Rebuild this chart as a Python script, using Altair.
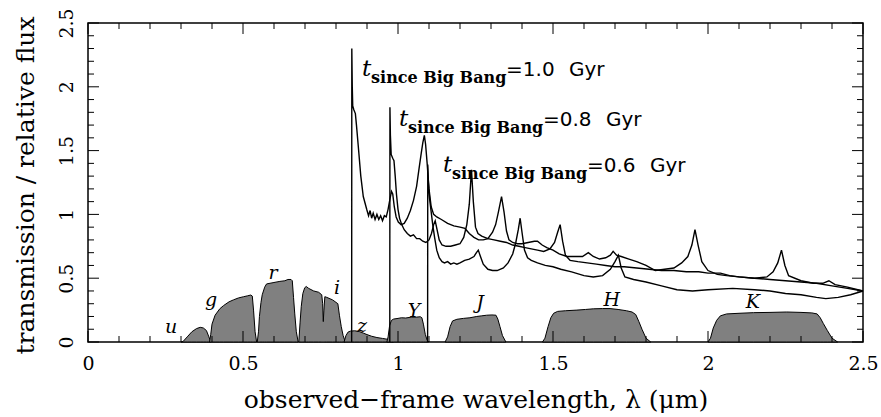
import altair as alt
import pandas as pd

# ---------------- filter transmission curves (wavelength in micron, transmission) ----------------
u_lam = [0.300, 0.307, 0.320, 0.335, 0.350, 0.362, 0.372, 0.382, 0.390, 0.396]
u_tr  = [0.000, 0.005, 0.040, 0.080, 0.105, 0.115, 0.110, 0.090, 0.040, 0.000]

g_lam = [0.392, 0.396, 0.400, 0.410, 0.425, 0.437, 0.455, 0.469, 0.485, 0.502, 0.515, 0.525, 0.530, 0.534, 0.539, 0.544]
g_tr  = [0.000, 0.060, 0.140, 0.210, 0.260, 0.285, 0.315, 0.330, 0.345, 0.355, 0.362, 0.368, 0.360, 0.250, 0.080, 0.000]

r_lam = [0.546, 0.550, 0.553, 0.558, 0.562, 0.570, 0.576, 0.597, 0.619, 0.635, 0.645, 0.655, 0.659, 0.663, 0.667, 0.672, 0.678]
r_tr  = [0.000, 0.080, 0.200, 0.310, 0.370, 0.430, 0.455, 0.465, 0.475, 0.480, 0.490, 0.490, 0.480, 0.350, 0.220, 0.080, 0.000]

i_lam = [0.680, 0.684, 0.688, 0.693, 0.699, 0.704, 0.712, 0.728, 0.744, 0.754, 0.757, 0.759, 0.761, 0.764, 0.770, 0.789, 0.806, 0.811, 0.817, 0.823, 0.830]
i_tr  = [0.000, 0.150, 0.280, 0.380, 0.425, 0.435, 0.420, 0.400, 0.390, 0.370, 0.300, 0.160, 0.250, 0.355, 0.350, 0.330, 0.300, 0.210, 0.120, 0.050, 0.000]

z_lam = [0.826, 0.832, 0.839, 0.846, 0.860, 0.875, 0.888, 0.900, 0.915, 0.932, 0.950, 0.965, 0.975, 0.985]
z_tr  = [0.000, 0.050, 0.078, 0.085, 0.088, 0.082, 0.070, 0.058, 0.045, 0.035, 0.028, 0.022, 0.012, 0.000]

Y_lam = [0.964, 0.968, 0.973, 0.979, 0.986, 1.000, 1.011, 1.025, 1.043, 1.060, 1.072, 1.077, 1.082, 1.088, 1.094, 1.099]
Y_tr  = [0.000, 0.040, 0.130, 0.170, 0.180, 0.185, 0.190, 0.188, 0.195, 0.195, 0.198, 0.190, 0.140, 0.060, 0.015, 0.000]

J_lam = [1.152, 1.160, 1.168, 1.176, 1.190, 1.211, 1.232, 1.254, 1.270, 1.286, 1.303, 1.316, 1.322, 1.329, 1.337, 1.348]
J_tr  = [0.000, 0.040, 0.120, 0.165, 0.178, 0.185, 0.190, 0.200, 0.205, 0.210, 0.212, 0.210, 0.180, 0.120, 0.050, 0.000]

H_lam = [1.466, 1.474, 1.484, 1.493, 1.502, 1.515, 1.540, 1.577, 1.605, 1.630, 1.660, 1.684, 1.710, 1.737, 1.755, 1.767, 1.777, 1.787, 1.800, 1.815]
H_tr  = [0.000, 0.030, 0.120, 0.190, 0.225, 0.240, 0.245, 0.250, 0.255, 0.260, 0.262, 0.262, 0.255, 0.245, 0.235, 0.215, 0.160, 0.100, 0.030, 0.000]

K_lam = [2.000, 2.008, 2.017, 2.028, 2.040, 2.060, 2.100, 2.147, 2.200, 2.254, 2.300, 2.335, 2.352, 2.362, 2.372, 2.385, 2.400, 2.418]
K_tr  = [0.000, 0.030, 0.110, 0.170, 0.205, 0.220, 0.225, 0.230, 0.232, 0.235, 0.232, 0.228, 0.220, 0.190, 0.145, 0.090, 0.030, 0.000]

filters = [("u", u_lam, u_tr), ("g", g_lam, g_tr), ("r", r_lam, r_tr), ("i", i_lam, i_tr),
           ("z", z_lam, z_tr), ("Y", Y_lam, Y_tr), ("J", J_lam, J_tr), ("H", H_lam, H_tr), ("K", K_lam, K_tr)]

# filter labels
flt_names = ["u", "g", "r", "i", "z", "Y", "J", "H", "K"]
flt_lab_lam = [0.268, 0.397, 0.597, 0.803, 0.884, 1.052, 1.265, 1.690, 2.145]
flt_lab_val = [0.118, 0.330, 0.540, 0.425, 0.125, 0.243, 0.306, 0.330, 0.313]

# ---------------- quasar spectra (relative flux) ----------------
A_lam = [0.8505, 0.851, 0.8525, 0.854, 0.8575, 0.8625, 0.866, 0.872, 0.880, 0.888, 0.899, 0.905, 0.910, 0.915,
         0.920, 0.926, 0.932, 0.938, 0.944, 0.950, 0.956, 0.962, 0.968, 0.974, 0.979, 0.983, 0.988, 0.994, 1.001,
         1.010, 1.020, 1.030, 1.040, 1.050, 1.060, 1.068, 1.075, 1.080, 1.085, 1.089, 1.094, 1.100, 1.107, 1.115,
         1.125, 1.140, 1.160, 1.180, 1.200, 1.216, 1.230, 1.245, 1.260, 1.275, 1.290, 1.305, 1.315, 1.324, 1.334,
         1.342, 1.350, 1.358, 1.370, 1.385, 1.400, 1.420, 1.440, 1.450, 1.465, 1.480, 1.500, 1.520, 1.545, 1.575,
         1.595, 1.614, 1.630, 1.650, 1.670, 1.685, 1.694, 1.705, 1.720, 1.745, 1.770, 1.800, 1.830, 1.860, 1.890,
         1.915, 1.935, 1.948, 1.958, 1.968, 1.980, 2.000, 2.030, 2.060, 2.100, 2.150, 2.200, 2.250, 2.300, 2.350,
         2.400, 2.450, 2.500]
A_flx = [0.00, 2.30, 2.00, 1.85, 1.82, 1.79, 1.70, 1.53, 1.30, 1.14, 1.04, 0.99, 1.03, 0.97,
         1.01, 0.96, 1.00, 0.96, 0.99, 0.95, 0.99, 0.98, 1.04, 1.12, 1.18, 1.16, 1.06, 0.98, 0.94,
         0.92, 0.93, 0.97, 1.03, 1.11, 1.22, 1.36, 1.48, 1.56, 1.62, 1.55, 1.40, 1.20, 1.06, 1.00,
         0.98, 0.96, 0.93, 0.91, 0.90, 0.89, 0.85, 0.82, 0.80, 0.80, 0.81, 0.86, 0.92, 1.02, 1.14,
         1.02, 0.87, 0.80, 0.78, 0.77, 0.77, 0.78, 0.79, 0.79, 0.76, 0.74, 0.72, 0.69, 0.67, 0.67,
         0.67, 0.70, 0.67, 0.65, 0.66, 0.68, 0.71, 0.68, 0.67, 0.65, 0.63, 0.60, 0.56, 0.57, 0.58,
         0.62, 0.67, 0.76, 0.88, 0.76, 0.63, 0.56, 0.53, 0.52, 0.51, 0.50, 0.49, 0.48, 0.47, 0.46,
         0.44, 0.42, 0.40]

B_lam = [0.9735, 0.974, 0.9755, 0.978, 0.983, 0.987, 0.991, 0.995, 1.000, 1.005, 1.012, 1.020, 1.030, 1.040,
         1.050, 1.060, 1.070, 1.080, 1.090, 1.100, 1.108, 1.115, 1.120, 1.126, 1.133, 1.142, 1.155, 1.170,
         1.185, 1.200, 1.212, 1.222, 1.230, 1.237, 1.243, 1.250, 1.258, 1.270, 1.290, 1.310, 1.330, 1.350,
         1.370, 1.390, 1.410, 1.430, 1.450, 1.470, 1.490, 1.505, 1.515, 1.523, 1.531, 1.540, 1.555, 1.580,
         1.610, 1.640, 1.670, 1.700, 1.730, 1.770, 1.810, 1.850, 1.890, 1.930, 1.970, 2.000, 2.040, 2.070,
         2.100, 2.150, 2.190, 2.210, 2.225, 2.237, 2.248, 2.260, 2.300, 2.340, 2.370, 2.390, 2.410, 2.450, 2.500]
B_flx = [0.00, 1.84, 1.62, 1.47, 1.44, 1.42, 1.30, 1.16, 1.04, 0.97, 0.92, 0.88, 0.85, 0.83,
         0.84, 0.81, 0.81, 0.79, 0.78, 0.80, 0.85, 0.92, 0.95, 0.88, 0.80, 0.76, 0.75, 0.75,
         0.76, 0.77, 0.82, 0.92, 1.08, 1.35, 1.10, 0.90, 0.85, 0.83, 0.81, 0.80, 0.79, 0.78,
         0.76, 0.75, 0.74, 0.73, 0.72, 0.71, 0.73, 0.78, 0.86, 0.92, 0.79, 0.68, 0.64, 0.63,
         0.62, 0.61, 0.60, 0.59, 0.59, 0.58, 0.57, 0.56, 0.56, 0.55, 0.55, 0.54, 0.54, 0.52,
         0.51, 0.50, 0.51, 0.55, 0.62, 0.72, 0.60, 0.52, 0.48, 0.46, 0.46, 0.48, 0.45, 0.43, 0.40]

C_lam = [1.0955, 1.096, 1.098, 1.102, 1.107, 1.112, 1.118, 1.125, 1.133, 1.142, 1.150, 1.160, 1.170, 1.180,
         1.190, 1.200, 1.215, 1.230, 1.245, 1.253, 1.259, 1.266, 1.275, 1.290, 1.305, 1.320, 1.340, 1.355,
         1.370, 1.380, 1.388, 1.394, 1.400, 1.408, 1.418, 1.430, 1.450, 1.475, 1.500, 1.525, 1.560, 1.600,
         1.630, 1.660, 1.685, 1.700, 1.711, 1.720, 1.732, 1.760, 1.800, 1.850, 1.900, 1.950, 2.000, 2.080,
         2.150, 2.200, 2.250, 2.300, 2.350, 2.380, 2.420, 2.460, 2.500]
C_flx = [0.00, 1.39, 1.25, 1.12, 1.02, 0.92, 0.82, 0.72, 0.66, 0.63, 0.62, 0.63, 0.61, 0.62,
         0.61, 0.62, 0.64, 0.65, 0.67, 0.70, 0.72, 0.67, 0.61, 0.57, 0.56, 0.56, 0.58, 0.62,
         0.69, 0.78, 0.88, 0.97, 0.86, 0.72, 0.66, 0.64, 0.62, 0.60, 0.59, 0.57, 0.55, 0.52,
         0.51, 0.52, 0.57, 0.63, 0.68, 0.58, 0.51, 0.49, 0.47, 0.44, 0.41, 0.40, 0.41, 0.42,
         0.41, 0.40, 0.38, 0.37, 0.35, 0.34, 0.35, 0.37, 0.40]

spectra = [("A", A_lam, A_flx), ("B", B_lam, B_flx), ("C", C_lam, C_flx)]

# spectrum labels: anchor of the italic t, and the age text
lab_lam = [0.884, 1.003, 1.145]
lab_val = [2.085, 1.693, 1.332]
lab_age = ["=1.0", "=0.8", "=0.6"]
lab_unit = "Gyr"

# tick positions
major_ticks = [0.0, 0.5, 1.0, 1.5, 2.0, 2.5]
minor_ticks = [0.1, 0.2, 0.3, 0.4, 0.6, 0.7, 0.8, 0.9, 1.1, 1.2, 1.3, 1.4,
               1.6, 1.7, 1.8, 1.9, 2.1, 2.2, 2.3, 2.4]

# ---------------- build tables ----------------
flt_df = pd.concat([pd.DataFrame({"band": n, "lam": l, "val": t}) for n, l, t in filters], ignore_index=True)
spec_rows = []
for n, l, f in spectra:
    for k, (a, b) in enumerate(zip(l, f)):
        spec_rows.append({"spec": n, "lam": a, "val": b, "k": k})
spec_df = pd.DataFrame(spec_rows)
flab_df = pd.DataFrame({"name": flt_names, "lam": flt_lab_lam, "val": flt_lab_val})
lab_df = pd.DataFrame({"lam": lab_lam, "val": lab_val, "age": lab_age})
maj_df = pd.DataFrame({"lam": major_ticks, "val": major_ticks})
min_df = pd.DataFrame({"lam": minor_ticks, "val": minor_ticks})

W, H = 775, 319
xs = alt.Scale(domain=[0, 2.5], nice=False, zero=False)
ys = alt.Scale(domain=[0, 2.5], nice=False, zero=False)

SERIF = "DejaVu Serif"

x_axis = alt.Axis(values=major_ticks, format="~g", title="observed\u2212frame wavelength, \u03bb (\u03bcm)",
                  labelFlush=False, labelOverlap=False, labelPadding=12, labelBaseline="top",
                  titleX=W / 2, titleY=65, titleBaseline="alphabetic", titleAlign="center")
y_axis = alt.Axis(values=major_ticks, format="~g", title="transmission / relative flux",
                  labelAngle=270, labelAlign="center", labelBaseline="alphabetic", labelPadding=16,
                  labelFlush=False, labelOverlap=False,
                  titleAngle=270, titleX=-55, titleY=162, titleBaseline="alphabetic", titleAlign="center")

X = alt.X("lam:Q", scale=xs, axis=x_axis)
Yenc = alt.Y("val:Q", scale=ys, axis=y_axis, stack=None)

areas = alt.Chart(flt_df).mark_area(color="#808080", stroke="black", strokeWidth=1, opacity=1).encode(
    x=X, y=Yenc, detail="band:N",
)

lines = alt.Chart(spec_df).mark_line(color="black", strokeWidth=1.4).encode(
    x=X, y=Yenc, detail="spec:N", order="k:Q",
)

flabels = alt.Chart(flab_df).mark_text(font=SERIF, fontStyle="italic", fontSize=19, color="black",
                                       align="center", baseline="middle").encode(
    x=X, y=Yenc, text="name:N")

t_txt = alt.Chart(lab_df).mark_text(font=SERIF, fontStyle="italic", fontSize=23, color="black",
                                    align="left", baseline="alphabetic", text="t").encode(x=X, y=Yenc)
sub_txt = alt.Chart(lab_df).mark_text(font=SERIF, fontWeight="bold", fontSize=16, color="black",
                                      align="left", baseline="alphabetic", dx=9, dy=7,
                                      text="since Big Bang").encode(x=X, y=Yenc)
age_txt = alt.Chart(lab_df).mark_text(font="DejaVu Sans", fontSize=20, color="black",
                                      align="left", baseline="alphabetic", dx=144).encode(
    x=X, y=Yenc, text="age:N")
unit_txt = alt.Chart(lab_df).mark_text(font="DejaVu Sans", fontSize=20, color="black",
                                       align="left", baseline="alphabetic", dx=207,
                                       text=lab_unit).encode(x=X, y=Yenc)

def xticks(df, size):
    bot = alt.Chart(df).mark_rule(color="black", strokeWidth=1).encode(
        x=X, y=alt.value(H), y2=alt.value(H - size))
    top = alt.Chart(df).mark_rule(color="black", strokeWidth=1).encode(
        x=X, y=alt.value(0), y2=alt.value(size))
    return [bot, top]

def yticks(df, size):
    lft = alt.Chart(df).mark_rule(color="black", strokeWidth=1).encode(
        y=Yenc, x=alt.value(0), x2=alt.value(size))
    rgt = alt.Chart(df).mark_rule(color="black", strokeWidth=1).encode(
        y=Yenc, x=alt.value(W), x2=alt.value(W - size))
    return [lft, rgt]

tick_layers = xticks(maj_df, 11) + xticks(min_df, 6) + yticks(maj_df, 11) + yticks(min_df, 6)

chart = alt.layer(areas, lines, flabels, t_txt, sub_txt, age_txt, unit_txt, *tick_layers).properties(
    width=W, height=H,
    autosize=alt.AutoSizeParams(type="none"),
    padding={"left": 88, "top": 23, "right": 18, "bottom": 75},
    background="white",
).configure_view(stroke="black", strokeWidth=1.5).configure_axis(
    grid=False, ticks=False, tickSize=0, domain=False,
    labelFont=SERIF, labelFontSize=19, labelColor="black",
    titleFont=SERIF, titleFontSize=25, titleFontWeight="normal", titleColor="black",
)

chart.save("out.html", embed_options={"renderer": "svg", "actions": False})
